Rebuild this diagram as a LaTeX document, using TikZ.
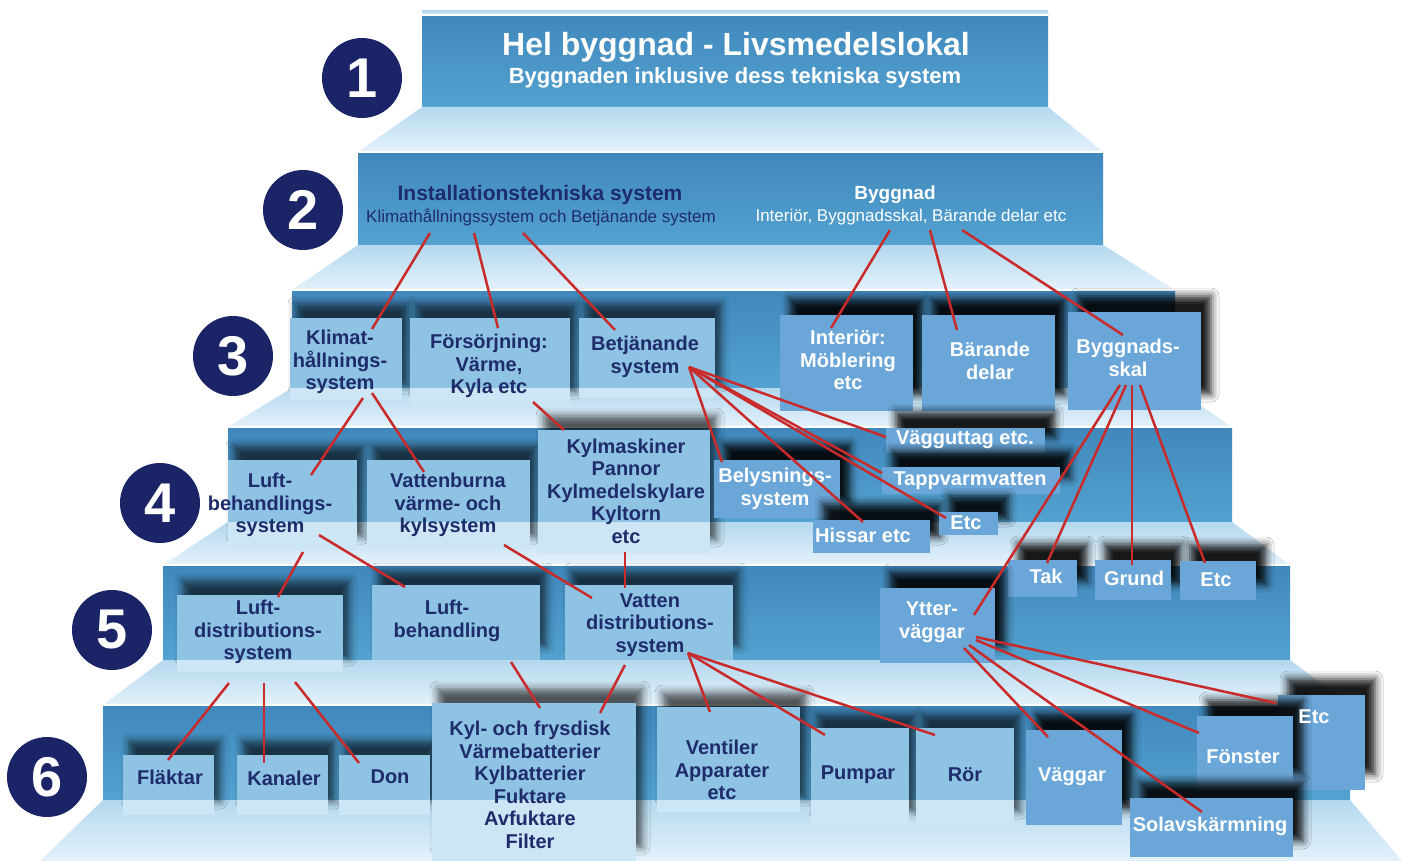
\documentclass[tikz,border=0pt]{standalone}
\usepackage{fontspec}
\setmainfont{Liberation Sans}
\usetikzlibrary{fit,calc,shadows.blur}
\definecolor{navy}{HTML}{1B2466}
\definecolor{txtnavy}{HTML}{1F2C6B}
\definecolor{bandtop}{HTML}{4088BC}
\definecolor{bandbot}{HTML}{53A2D0}
\definecolor{treadtop}{HTML}{B4D8EE}
\definecolor{treadbot}{HTML}{E4F2FB}
\definecolor{boxhi}{HTML}{8EC3E4}
\definecolor{boxlo}{HTML}{CDE6F5}
\definecolor{boxw}{HTML}{6AA6D8}
\definecolor{redl}{HTML}{C92B2B}
\newcommand\lbox[6]{%
  \pgfmathsetmacro\lbdy{#6-#3}%
  \node[lboxst, fit={(#2,#3)(#4,#5)},
    path picture={\fill[boxlo] ([yshift=-\lbdy pt]path picture bounding box.north west) rectangle (path picture bounding box.south east);}] (#1) {};}
\newcommand\wbox[5]{\node[wboxst, fit={(#2,#3)(#4,#5)}] (#1) {};}
\begin{document}
\begin{tikzpicture}[x=1pt,y=-1pt,
  band/.style={top color=bandtop,bottom color=bandbot},
  tread/.style={top color=treadtop,bottom color=treadbot},
  edge/.style={white,line width=2pt},
  lboxst/.style={inner sep=0pt, fill=boxhi,
    blur shadow={shadow xshift=6pt, shadow yshift=14pt, shadow blur radius=8pt, shadow opacity=65}},
  wboxst/.style={inner sep=0pt, fill=boxw,
    blur shadow={shadow xshift=10pt, shadow yshift=16pt, shadow blur radius=8pt, shadow opacity=90}},
  ntext/.style={text=txtnavy, font=\bfseries\fontsize{20}{22.5}\selectfont, align=center, inner sep=0pt},
  wtext/.style={ntext, text=white},
  num/.style={circle, fill=navy, minimum size=80pt, inner sep=0pt, text=white,
    font=\bfseries\fontsize{56}{56}\selectfont},
  redline/.style={draw=redl, line width=2.5pt}]
\useasboundingbox (0,0) rectangle (1402,861);
\fill[white] (0,0) rectangle (1402,861);
% ---- staircase ----
\shade[tread] (422,11) rectangle (1048,15);
\shade[band] (422,15) rectangle (1048,107);
\shade[tread] (422,107) -- (1048,107) -- (1103,152) -- (358,152) -- cycle;
\shade[band] (358,152) rectangle (1103,245);
\shade[tread] (358,245) -- (1103,245) -- (1175,290) -- (292,290) -- cycle;
\shade[band] (292,290) rectangle (1175,388);
\shade[tread] (292,388) -- (1175,388) -- (1232,427) -- (228,427) -- cycle;
\shade[band] (228,427) rectangle (1232,522);
\shade[tread] (228,522) -- (1232,522) -- (1290,565) -- (163,565) -- cycle;
\shade[band] (163,565) rectangle (1290,660);
\shade[tread] (163,660) -- (1290,660) -- (1350,705) -- (103,705) -- cycle;
\shade[band] (103,705) rectangle (1350,800);
\shade[tread] (103,800) -- (1350,800) -- (1402,861) -- (40,861) -- cycle;
\draw[edge] (422,15) -- (1048,15);
\draw[edge] (358,152) -- (1103,152);
\draw[edge] (292,290) -- (1175,290);
\draw[edge] (228,427) -- (1232,427);
\draw[edge] (163,565) -- (1290,565);
\draw[edge] (103,705) -- (1350,705);
% ---- level numbers ----
\node[num] (c1) at (362,78) {1};
\node[num] (c2) at (303,210) {2};
\node[num] (c3) at (233,356) {3};
\node[num] (c4) at (160,503) {4};
\node[num] (c5) at (112,630) {5};
\node[num] (c6) at (47,777) {6};
% ---- level 1 and 2 texts ----
\node[text=white, font=\bfseries\fontsize{32}{32}\selectfont] (t-title) at (736,47) {Hel byggnad - Livsmedelslokal};
\node[text=white, font=\bfseries\fontsize{22}{22}\selectfont] (t-sub) at (735,78) {Byggnaden inklusive dess tekniska system};
\node[text=txtnavy, font=\bfseries\fontsize{21}{21}\selectfont] (t-inst) at (540,195) {Installationstekniska system};
\node[text=txtnavy, font=\fontsize{17}{17}\selectfont] (t-instsub) at (541,217) {Klimathållningssystem och Betjänande system};
\node[text=white, font=\bfseries\fontsize{19}{19}\selectfont] (t-bygg) at (895,195) {Byggnad};
\node[text=white, font=\fontsize{17}{17}\selectfont] (t-byggsub) at (911,217) {Interiör, Byggnadsskal, Bärande delar etc};
% ---- boxes level 3 ----
\lbox{b-klimat}{290}{318}{402}{400}{388}
\lbox{b-forsorj}{410}{318}{570}{405}{388}
\lbox{b-betj}{579}{318}{715}{398}{388}
\wbox{b-interior}{780}{315}{913}{411}
\wbox{b-barande}{922}{315}{1055}{411}
\wbox{b-skal}{1068}{312}{1201}{410}
% ---- boxes level 4 ----
\lbox{b-luftbeh}{228}{460}{357}{550}{522}
\lbox{b-vattenb}{367}{460}{530}{550}{522}
\lbox{b-kylmask}{538}{430}{710}{553}{522}
\wbox{b-vagg}{886}{428}{1045}{453}
\wbox{b-tapp}{882}{467}{1060}{494}
\wbox{b-belys}{714}{460}{840}{518}
\wbox{b-hissar}{813}{520}{930}{553}
\wbox{b-etc4}{939}{512}{998}{535}
% ---- boxes level 5 ----
\wbox{b-tak}{1008}{560}{1077}{597}
\wbox{b-grund}{1095}{560}{1171}{600}
\wbox{b-etc5}{1180}{561}{1256}{600}
\lbox{b-luftdist}{177}{595}{343}{672}{660}
\lbox{b-luftbehl}{372}{585}{540}{660}{660}
\lbox{b-vattend}{565}{585}{733}{660}{660}
\wbox{b-ytter}{880}{588}{995}{663}
% ---- boxes level 6 ----
\lbox{b-flakt}{123}{755}{214}{815}{800}
\lbox{b-kanal}{237}{755}{328}{815}{800}
\lbox{b-don}{339}{755}{430}{815}{800}
\lbox{b-kyl}{432}{703}{636}{861}{800}
\lbox{b-ventil}{657}{707}{800}{812}{800}
\lbox{b-pump}{811}{728}{909}{825}{800}
\lbox{b-ror}{916}{728}{1014}{825}{800}
\wbox{b-vaggar}{1026}{730}{1122}{825}
\wbox{b-etc6}{1278}{695}{1365}{790}
\wbox{b-fonster}{1197}{716}{1293}{790}
\wbox{b-solav}{1130}{798}{1293}{857}
% ---- texts ----
\node[ntext] (t-klimat) at (340,362) {Klimat-\\hållnings-\\system};
\node[ntext] (t-forsorj) at (489,366) {Försörjning:\\Värme,\\Kyla etc};
\node[ntext] (t-betj) at (645,357) {Betjänande\\system};
\node[wtext] (t-interior) at (848,360) {Interiör:\\Möblering\\etc};
\node[wtext] (t-barande) at (990,361) {Bärande\\delar};
\node[wtext] (t-skal) at (1128,358) {Byggnads-\\skal};
\node[ntext] (t-luftbeh) at (270,505) {Luft-\\behandlings-\\system};
\node[ntext] (t-vattenb) at (448,505) {Vattenburna\\värme- och\\kylsystem};
\node[ntext] (t-kylmask) at (626,491) {Kylmaskiner\\Pannor\\Kylmedelskylare\\Kyltorn\\etc};
\node[wtext] (t-belys) at (775,489) {Belysnings-\\system};
\node[wtext] (t-vagg) at (965,440) {Vägguttag etc.};
\node[wtext] (t-tapp) at (970,481) {Tappvarmvatten};
\node[wtext] (t-hissar) at (863,535) {Hissar etc};
\node[wtext] (t-etc4) at (966,523) {Etc};
\node[wtext] (t-tak) at (1046,576) {Tak};
\node[wtext] (t-grund) at (1134,578) {Grund};
\node[wtext] (t-etc5) at (1216,580) {Etc};
\node[ntext] (t-luftdist) at (258,632) {Luft-\\distributions-\\system};
\node[ntext] (t-luftbehl) at (447,621) {Luft-\\behandling};
\node[ntext] (t-vattend) at (650,625) {Vatten\\distributions-\\system};
\node[wtext] (t-ytter) at (932,622) {Ytter-\\väggar};
\node[ntext] (t-flakt) at (170,777) {Fläktar};
\node[ntext] (t-kanal) at (284,778) {Kanaler};
\node[ntext] (t-don) at (390,777) {Don};
\node[ntext] (t-kyl) at (530,785) {Kyl- och frysdisk\\Värmebatterier\\Kylbatterier\\Fuktare\\Avfuktare\\Filter};
\node[ntext] (t-ventil) at (722,770) {Ventiler\\Apparater\\etc};
\node[ntext] (t-pump) at (858,775) {Pumpar};
\node[ntext] (t-ror) at (965,775) {Rör};
\node[wtext] (t-vaggar) at (1072,777) {Väggar};
\node[wtext] (t-fonster) at (1243,757) {Fönster};
\node[wtext] (t-etc6) at (1314,717) {Etc};
\node[wtext] (t-solav) at (1210,826) {Solavskärmning};
% ---- connectors ----
\draw[redline] ($(t-instsub)+({430-541},{233-217})$) -- ($(t-klimat)+({372-340},{329-362})$);
\draw[redline] ($(t-instsub)+({474-541},{233-217})$) -- ($(t-forsorj)+({498-489},{328-366})$);
\draw[redline] ($(t-instsub)+({523-541},{233-217})$) -- ($(t-betj)+({615-645},{330-357})$);
\draw[redline] ($(t-byggsub)+({890-911},{230-217})$) -- ($(t-interior)+({831-848},{328-360})$);
\draw[redline] ($(t-byggsub)+({930-911},{230-217})$) -- ($(t-barande)+({957-990},{330-361})$);
\draw[redline] ($(t-byggsub)+({962-911},{230-217})$) -- ($(t-skal)+({1123-1128},{335-358})$);
\draw[redline] ($(t-klimat)+({363-340},{398-362})$) -- ($(t-luftbeh)+({311-270},{475-505})$);
\draw[redline] ($(t-klimat)+({372-340},{393-362})$) -- ($(t-vattenb)+({424-448},{472-505})$);
\draw[redline] ($(t-forsorj)+({533-489},{402-366})$) -- ($(t-kylmask)+({564-626},{430-491})$);
\draw[redline] ($(t-betj)+({689-645},{367-357})$) -- ($(t-vagg)+({886-965},{437-440})$);
\draw[redline] ($(t-betj)+({689-645},{367-357})$) -- ($(t-tapp)+({882-970},{473-481})$);
\draw[redline] ($(t-betj)+({689-645},{367-357})$) -- ($(t-etc4)+({946-966},{518-523})$);
\draw[redline] ($(t-betj)+({689-645},{367-357})$) -- ($(t-hissar)+({863-863},{522-535})$);
\draw[redline] ($(t-betj)+({689-645},{367-357})$) -- ($(t-belys)+({722-775},{462-489})$);
\draw[redline] ($(t-skal)+({1120-1128},{385-358})$) -- ($(t-ytter)+({974-932},{615-622})$);
\draw[redline] ($(t-skal)+({1126-1128},{385-358})$) -- ($(t-tak)+({1047-1046},{563-576})$);
\draw[redline] ($(t-skal)+({1132-1128},{385-358})$) -- ($(t-grund)+({1132-1134},{565-578})$);
\draw[redline] ($(t-skal)+({1140-1128},{385-358})$) -- ($(t-etc5)+({1205-1216},{563-580})$);
\draw[redline] ($(t-luftbeh)+({303-270},{552-505})$) -- ($(t-luftdist)+({278-258},{597-632})$);
\draw[redline] ($(t-luftbeh)+({319-270},{535-505})$) -- ($(t-luftbehl)+({405-447},{587-621})$);
\draw[redline] ($(t-vattenb)+({504-448},{545-505})$) -- ($(t-vattend)+({592-650},{598-625})$);
\draw[redline] ($(t-kylmask)+({625-626},{552-491})$) -- ($(t-vattend)+({625-650},{588-625})$);
\draw[redline] ($(t-luftdist)+({229-258},{683-632})$) -- ($(t-flakt)+({168-170},{760-777})$);
\draw[redline] ($(t-luftdist)+({264-258},{683-632})$) -- ($(t-kanal)+({264-284},{763-778})$);
\draw[redline] ($(t-luftdist)+({295-258},{682-632})$) -- ($(t-don)+({359-390},{763-777})$);
\draw[redline] ($(t-luftbehl)+({511-447},{662-621})$) -- ($(t-kyl)+({540-530},{708-785})$);
\draw[redline] ($(t-vattend)+({625-650},{665-625})$) -- ($(t-kyl)+({600-530},{713-785})$);
\draw[redline] ($(t-vattend)+({688-650},{653-625})$) -- ($(t-ventil)+({710-722},{712-770})$);
\draw[redline] ($(t-vattend)+({688-650},{653-625})$) -- ($(t-pump)+({825-858},{735-775})$);
\draw[redline] ($(t-vattend)+({688-650},{653-625})$) -- ($(t-ror)+({935-965},{735-775})$);
\draw[redline] ($(t-ytter)+({964-932},{648-622})$) -- ($(t-vaggar)+({1048-1072},{737-777})$);
\draw[redline] ($(t-ytter)+({969-932},{645-622})$) -- ($(t-solav)+({1202-1210},{812-826})$);
\draw[redline] ($(t-ytter)+({976-932},{640-622})$) -- ($(t-fonster)+({1199-1243},{733-757})$);
\draw[redline] ($(t-ytter)+({976-932},{637-622})$) -- ($(t-etc6)+({1276-1314},{703-717})$);
\end{tikzpicture}
\end{document}
